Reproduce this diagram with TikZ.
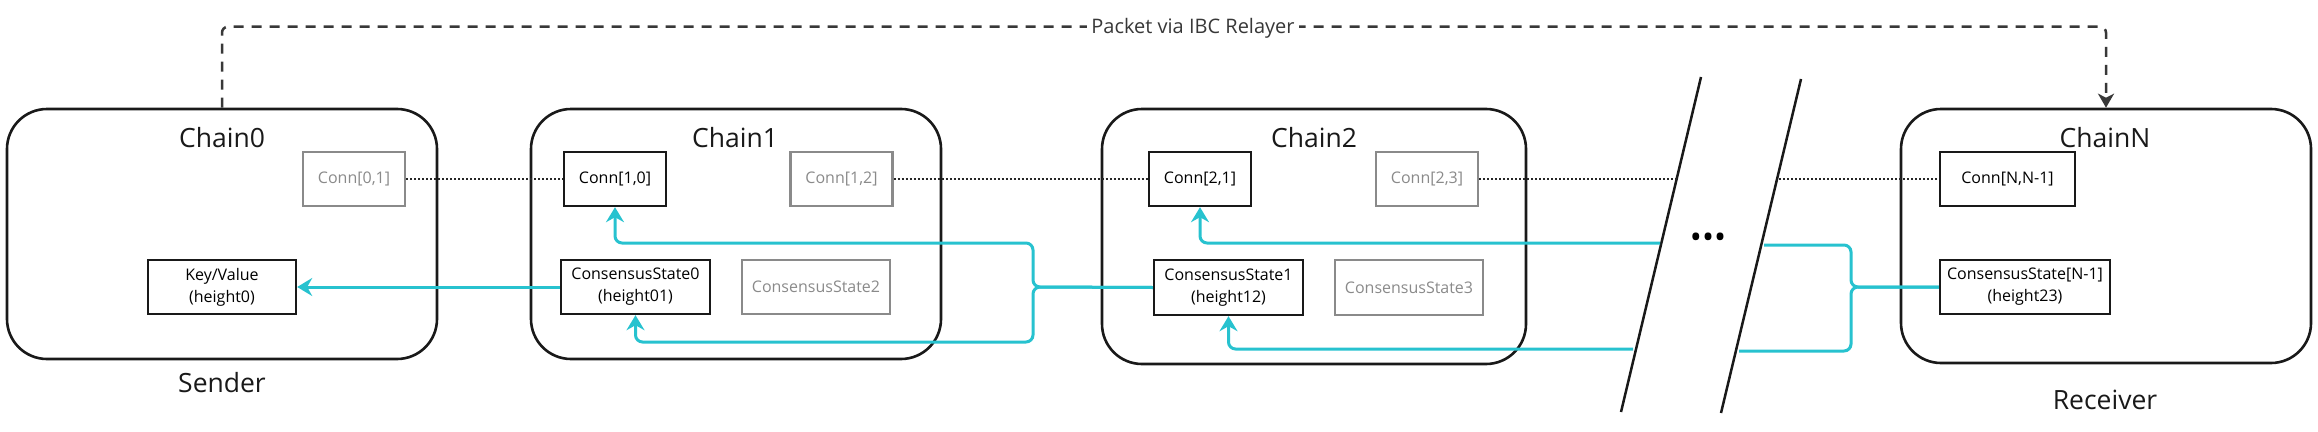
\documentclass[tikz,border=0pt]{standalone}
\usepackage{fontspec}
\setmainfont{Open Sans}
\usepackage{tikz}
\usetikzlibrary{arrows.meta}
\definecolor{relaycyan}{HTML}{27C2CF}
\definecolor{ghost}{HTML}{8A8A8A}
\definecolor{inkgray}{HTML}{383838}

\begin{document}
\begin{tikzpicture}[x=1pt,y=-1pt,
  chain/.style={draw=black!90,line width=2.6pt,rounded corners=40pt,inner sep=0pt},
  box/.style={draw=black!90,line width=2.4pt,align=center,inner sep=0pt,minimum height=54pt,font=\fontsize{16}{22}\selectfont},
  ghostbox/.style={box,draw=ghost,text=ghost},
  title/.style={text=black!90,font=\fontsize{26.5}{30}\selectfont},
  link/.style={draw=relaycyan,line width=3pt,rounded corners=7pt},
  linkarrow/.style={link,-{Stealth[length=15pt,width=18pt,inset=5pt]}},
  peer/.style={dotted,line width=2pt,black!85},
  relay/.style={inkgray,line width=2.5pt,dash pattern=on 10pt off 8pt,rounded corners=6pt}]
\useasboundingbox (0,0) rectangle (2318,431);

\node[chain,minimum width=430pt,minimum height=250pt] (chain0) at (222,234) {};
\node[chain,minimum width=410pt,minimum height=250pt] (chain1) at (736,234) {};
\node[chain,minimum width=424pt,minimum height=255pt] (chain2) at (1314,236.5) {};
\node[chain,minimum width=410pt,minimum height=254pt] (chainN) at (2106,236) {};

\node[title] (t0) at (222,138) {Chain0};
\node[title] (t1) at (735,138) {Chain1};
\node[title] (t2) at (1314,138) {Chain2};
\node[title] (tN) at (2105,138) {ChainN};
\node[title] (sender) at (222,383) {Sender};
\node[title] (receiver) at (2105,400) {Receiver};

\node[ghostbox,minimum width=102pt] (conn01) at (354,179) {Conn[0,1]};
\node[box,minimum width=148pt] (kv) at (222,287) {Key/Value\\(height0)};
\node[box,minimum width=102pt] (conn10) at (615,179) {Conn[1,0]};
\node[ghostbox,minimum width=102pt] (conn12) at (841.5,179) {Conn[1,2]};
\node[box,minimum width=149pt] (cs0) at (635.5,287) {ConsensusState0\\(height01)};
\node[ghostbox,minimum width=148pt] (cs2) at (816,287) {ConsensusState2};
\node[box,minimum width=102pt] (conn21) at (1200,179) {Conn[2,1]};
\node[ghostbox,minimum width=102pt] (conn23) at (1427,179) {Conn[2,3]};
\node[box,minimum width=149pt,minimum height=55pt] (cs1) at (1228.5,287.5) {ConsensusState1\\(height12)};
\node[ghostbox,minimum width=148pt,minimum height=55pt] (cs3) at (1409,287.5) {ConsensusState3};
\node[box,minimum width=135pt] (connN) at (2007.5,179) {Conn[N,N-1]};
\node[box,minimum width=170pt] (csN) at (2025,287) {ConsensusState[N-1]\\(height23)};

\node[font=\fontsize{32}{32}\selectfont] (more) at (1708,241) {•••};
\draw[black!90,line width=2.5pt] (1701,77) -- (1621,412);
\draw[black!90,line width=2.5pt] (1801,79) -- (1721,413);

\coordinate (dotA) at (1677,179);
\coordinate (dotB) at (1779,179);
\coordinate (fork1) at (1033,287);
\coordinate (fork2) at (1851,287);
\coordinate (upA) at (1660,243);
\coordinate (upB) at (1764,245);
\coordinate (loA) at (1633,349);
\coordinate (loB) at (1739,351);

\draw[peer] (conn01.east) -- (conn10.west);
\draw[peer] (conn12.east) -- (conn21.west);
\draw[peer] (conn23.east) -- (dotA);
\draw[peer] (dotB) -- (connN.west);

\draw[linkarrow] (cs0.west) -- (kv.east);
\draw[linkarrow] (cs1.west) -- (fork1) -- ++(0,-44) -| (conn10.south);
\draw[linkarrow] (cs1.west) -- (fork1) -- ++(0,55) -| (cs0.south);
\draw[link] (csN.west) -- (fork2) -- ++(0,-42) -- (upB);
\draw[link] (csN.west) -- (fork2) -- ++(0,64) -- (loB);
\draw[linkarrow] (upA) -| (conn21.south);
\draw[linkarrow] (loA) -| (cs1.south);

\draw[relay,-{Stealth[length=14pt,width=16pt,inset=4pt]}] (chain0.north) -- ++(0,-81) -| (chainN.north);
\node[fill=white,inner sep=4pt,text=inkgray,font=\fontsize{20}{24}\selectfont] (relaylabel) at (1193,28) {Packet via IBC Relayer};
\end{tikzpicture}
\end{document}
